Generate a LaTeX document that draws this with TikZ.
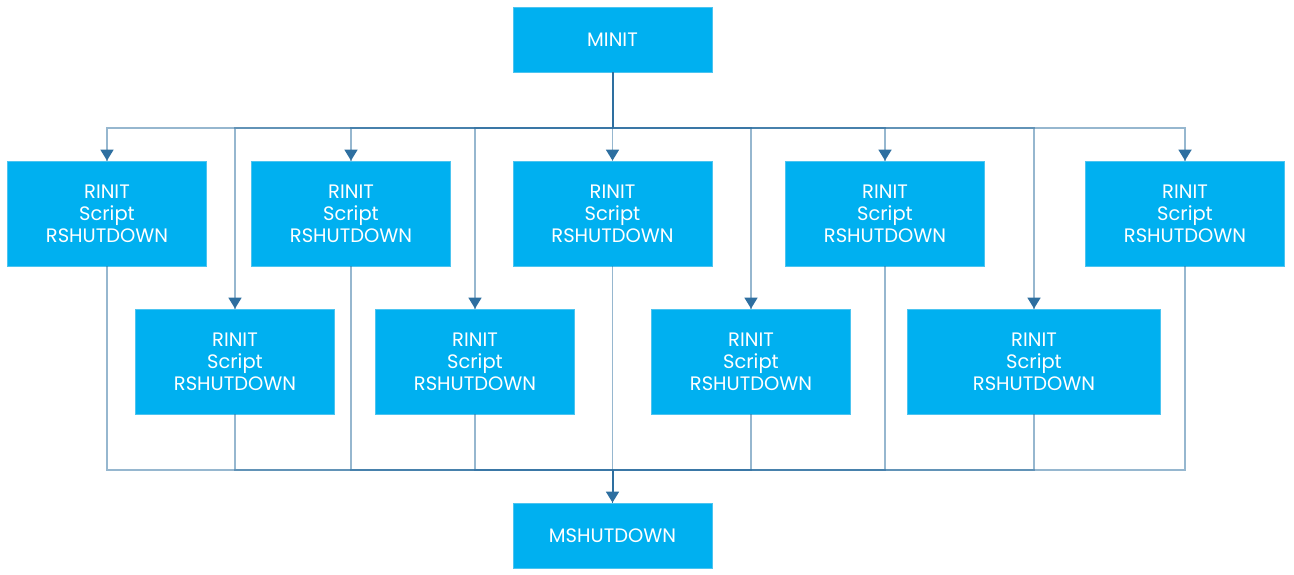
\documentclass[tikz,border=0pt]{standalone}
\usepackage{fontspec}
\setmainfont{Poppins}
\usepackage{tikz}
\usetikzlibrary{arrows.meta}
\definecolor{boxblue}{HTML}{00B0F0}
\definecolor{boxedge}{HTML}{4CC4F0}
\definecolor{linkblue}{HTML}{2E6FA0}
\tikzset{
	mbox/.style={fill=boxblue, draw=boxedge, line width=0.6pt, text=white, minimum width=149.25pt, minimum height=48.75pt, inner sep=0pt, font=\fontsize{14.6}{16.5}\selectfont},
	rbox/.style={mbox, minimum height=78.75pt, align=center},
	link/.style={draw=linkblue, draw opacity=0.5, line width=1.3pt},
	trunk/.style={draw=linkblue, line width=1.5pt},
	tip/.style={linkblue, line width=1.3pt, -{Triangle[width=9.75pt,length=8.25pt]}}
}

\begin{document}
\begin{tikzpicture}[x=0.75pt,y=-0.75pt]
	\useasboundingbox (0,0) rectangle (1294,574);
	\node[mbox] (minit) at (612.5,39.5) {MINIT};
	\node[rbox] (r1) at (107,213.5) {RINIT\\Script\\RSHUTDOWN};
	\node[rbox] (r2) at (235,361.5) {RINIT\\Script\\RSHUTDOWN};
	\node[rbox] (r3) at (351,213.5) {RINIT\\Script\\RSHUTDOWN};
	\node[rbox] (r4) at (475,361.5) {RINIT\\Script\\RSHUTDOWN};
	\node[rbox] (r5) at (612.5,213.5) {RINIT\\Script\\RSHUTDOWN};
	\node[rbox] (r6) at (751,361.5) {RINIT\\Script\\RSHUTDOWN};
	\node[rbox] (r7) at (885,213.5) {RINIT\\Script\\RSHUTDOWN};
	\node[rbox, minimum width=189.75pt] (r8) at (1034,361.5) {RINIT\\Script\\RSHUTDOWN};
	\node[rbox] (r9) at (1185,213.5) {RINIT\\Script\\RSHUTDOWN};
	\node[mbox] (mshut) at (612.5,535.5) {MSHUTDOWN};
	\coordinate (topbus) at (612.5,128);
	\coordinate (botbus) at (612.5,470);
	\foreach \i in {1,...,9}{
		\draw[link] (minit.south) -- (topbus) -| (r\i.north);
		\draw[link] (r\i.south) -- (r\i.south |- botbus) -| (mshut.north);
		\draw[tip] ([yshift=8.25pt]r\i.north) -- (r\i.north);
	}
	\draw[trunk] (minit.south) -- (topbus);
	\draw[trunk] (botbus) -- ([yshift=8.25pt]mshut.north);
	\draw[tip] ([yshift=8.25pt]mshut.north) -- (mshut.north);
\end{tikzpicture}
\end{document}
